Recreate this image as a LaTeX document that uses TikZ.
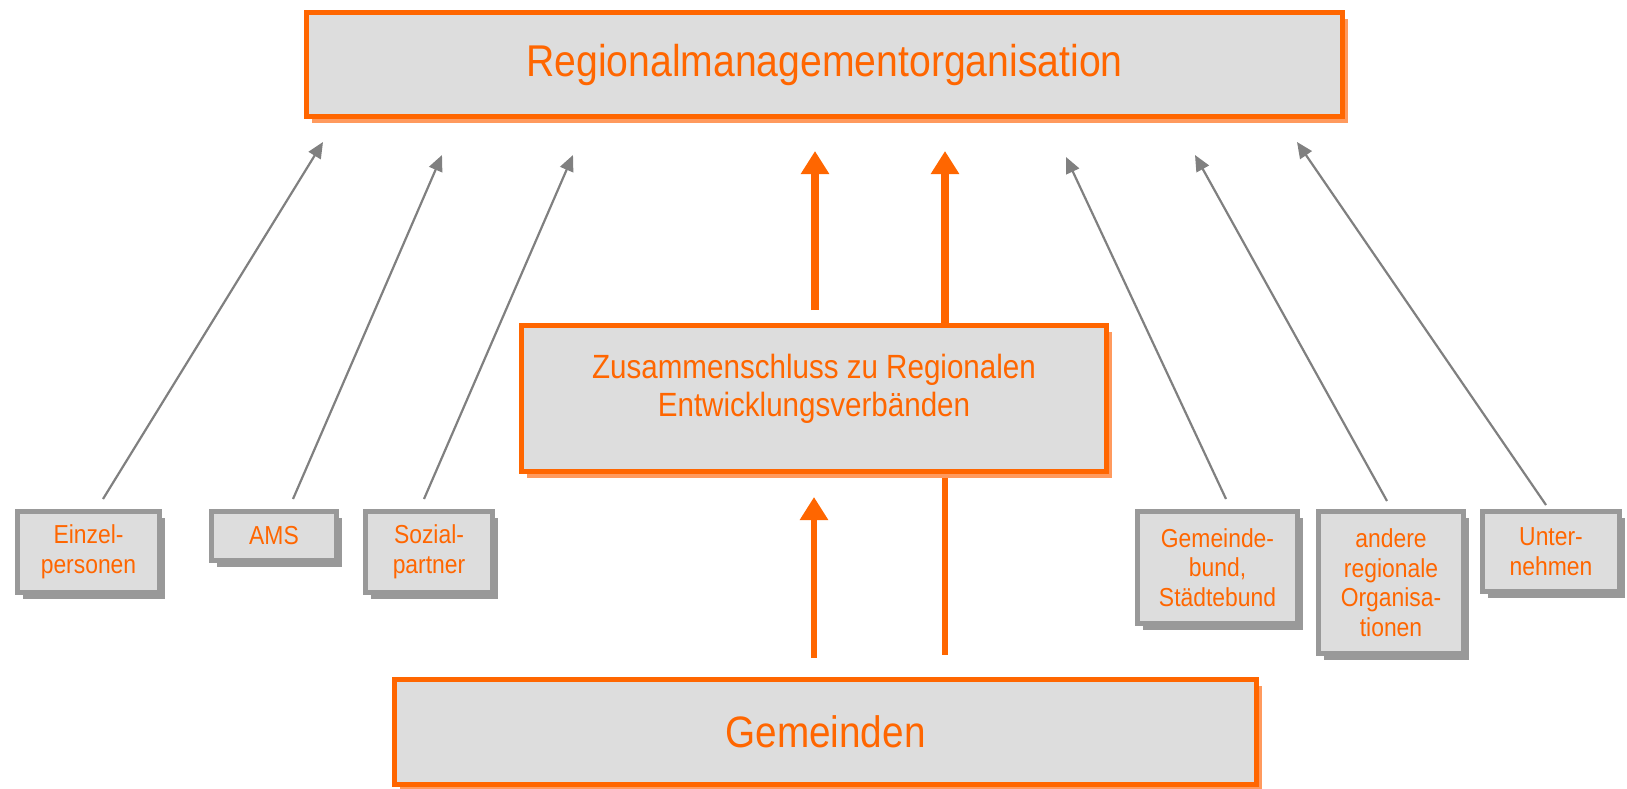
\documentclass[tikz,border=0pt]{standalone}
\usepackage{fontspec}
\usepackage{tikz}
\usetikzlibrary{
    arrows.meta,
    positioning,
    calc,
    shadows,
}
\newfontfamily\diagfont[FakeStretch=0.88]{Liberation Sans}
\definecolor{rmorange}{HTML}{FF6600}
\definecolor{rmshade}{HTML}{FF9A5E}
\definecolor{rmfill}{HTML}{DDDDDD}
\definecolor{rmgray}{HTML}{999999}
\definecolor{rmarrow}{HTML}{808080}

\begin{document}
\begin{tikzpicture}[
        x=1pt, y=-1pt,
        mainbox/.style={
            rectangle, draw=rmorange, line width=5.3pt, fill=rmfill,
            text=rmorange, align=center,
            drop shadow={shadow xshift=5.5pt, shadow yshift=-6.5pt, fill=rmshade, opacity=1}
        },
        partner/.style={
            rectangle, draw=rmgray, line width=5pt, fill=rmfill,
            text=rmorange, align=center,
            font=\diagfont\fontsize{26}{29.5}\selectfont,
            drop shadow={shadow xshift=5.5pt, shadow yshift=-6.5pt, fill=rmgray, opacity=1}
        },
        feed/.style={draw=rmarrow, line width=2.2pt, -{Triangle[length=16pt,width=14pt]}},
        flow/.style={draw=rmorange, line width=#1, -{Triangle[length=23pt,width=27pt]}},
        flow/.default=8pt,
    ]
    \useasboundingbox (0,0) rectangle (1627,789);

    % ── Top: organisation ──
    \node[mainbox, minimum width=1035.7pt, minimum height=103.7pt,
          font=\diagfont\fontsize{44.5}{50}\selectfont] (orga) at (824.5,64.5)
        {Regionalmanagementorganisation};

    % ── Middle: association ──
    \node[mainbox, minimum width=584.7pt, minimum height=145.7pt,
          font=\diagfont\fontsize{33.6}{38}\selectfont, text depth=26pt,
          below=204pt of orga, xshift=-10.5pt] (verband)
        {Zusammenschluss zu Regionalen\\Entwicklungsverbänden};

    % ── Bottom: municipalities ──
    \node[mainbox, minimum width=861.7pt, minimum height=104.7pt,
          font=\diagfont\fontsize{44}{50}\selectfont,
          below=203pt of verband, xshift=11.5pt] (gemeinden) {Gemeinden};

    % ── Left partners ──
    \node[partner, minimum width=142pt, minimum height=81pt, anchor=north west] (einzel) at (15,509)
        {Einzel-\\personen};
    \node[partner, minimum width=125pt, minimum height=49pt,
          right=47pt of einzel.north east, anchor=north west] (ams) {AMS};
    \node[partner, minimum width=127pt, minimum height=81pt,
          right=24pt of ams.north east, anchor=north west] (sozial) {Sozial-\\partner};

    % ── Right partners ──
    \node[partner, minimum width=160pt, minimum height=112pt, anchor=north west] (gbund) at (1135,509)
        {Gemeinde-\\bund,\\Städtebund};
    \node[partner, minimum width=145pt, minimum height=142pt,
          right=16pt of gbund.north east, anchor=north west] (andere)
        {andere\\regionale\\Organisa-\\tionen};
    \node[partner, minimum width=137pt, minimum height=80pt,
          right=14pt of andere.north east, anchor=north west] (unter) {Unter-\\nehmen};

    % ── Feeds into the organisation ──
    \draw[feed] ([xshift=14.5pt,yshift=10pt]einzel.north) -- ([xshift=19pt,yshift=-23pt]orga.south west);
    \draw[feed] ([xshift=19pt,yshift=10pt]ams.north) -- ([xshift=138pt,yshift=-36pt]orga.south west);
    \draw[feed] ([xshift=-5pt,yshift=10pt]sozial.north) -- ([xshift=269pt,yshift=-36pt]orga.south west);
    \draw[feed] ([xshift=8.5pt,yshift=10pt]gbund.north) -- ([xshift=-279pt,yshift=-38pt]orga.south east);
    \draw[feed] ([xshift=-4pt,yshift=8pt]andere.north) -- ([xshift=-150pt,yshift=-36pt]orga.south east);
    \draw[feed] ([xshift=-5pt,yshift=4pt]unter.north) -- ([xshift=-48pt,yshift=-23pt]orga.south east);

    % ── Orange flows ──
    \draw[flow] ([xshift=1pt,yshift=13pt]verband.north) -- ([xshift=-9.5pt,yshift=-32pt]orga.south);
    \draw[flow] ([xshift=131pt]verband.north) -- ([xshift=120.5pt,yshift=-32pt]orga.south);
    \draw[flow=6pt] ([xshift=-11.5pt,yshift=19pt]gemeinden.north) -- ([yshift=-23pt]verband.south);
    \draw[flow=6pt, -] ([xshift=131pt,yshift=-4pt]verband.south) -- ([xshift=119.5pt,yshift=22pt]gemeinden.north);

\end{tikzpicture}
\end{document}
